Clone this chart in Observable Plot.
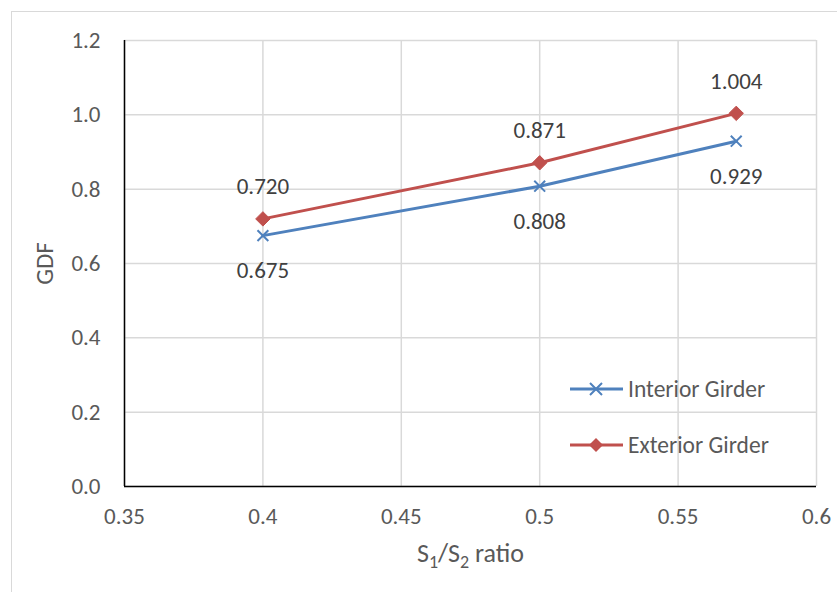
<!DOCTYPE html>
<html>
<head>
<meta charset="utf-8">
<script src="https://cdn.jsdelivr.net/npm/d3@7"></script>
<script src="https://cdn.jsdelivr.net/npm/@observablehq/plot@0.6"></script>
<style>
  html, body { margin: 0; padding: 0; background: #fff; }
  #wrap { position: relative; width: 837px; height: 592px; overflow: hidden; }
  #frame { position: absolute; left: 11px; top: 11px; width: 900px; height: 700px; border: 1.5px solid #d9d9d9; box-sizing: border-box; }
  #chart { position: absolute; left: 0; top: 0; }
  svg text { font-family: Carlito, Calibri, Lato, sans-serif; }
</style>
</head>
<body>
<div id="wrap"><div id="frame"></div><div id="chart"></div></div>
<script>
const ratios = [0.4, 0.5, 0.571];
const interior = [0.675, 0.808, 0.929];
const exterior = [0.720, 0.871, 1.004];
const seriesNames = ["Interior Girder", "Exterior Girder"];
const xTicks = [0.35, 0.4, 0.45, 0.5, 0.55, 0.6];
const yTicks = [0, 0.2, 0.4, 0.6, 0.8, 1.0, 1.2];

const blue = "#4f81bd";
const red = "#c0504d";
const gray = "#595959";
const FS = 23;

const intData = ratios.map((x, i) => ({x, y: interior[i]}));
const extData = ratios.map((x, i) => ({x, y: exterior[i]}));

const chart = Plot.plot({
  width: 837,
  height: 592,
  marginLeft: 124,
  marginRight: 21,
  marginTop: 40,
  marginBottom: 106,
  style: {fontSize: FS + "px", color: gray, background: "transparent"},
  x: {domain: [0.35, 0.6]},
  y: {domain: [0, 1.2]},
  marks: [
    Plot.ruleX(xTicks, {stroke: "#d9d9d9", strokeWidth: 1.5}),
    Plot.ruleY(yTicks, {stroke: "#d9d9d9", strokeWidth: 1.5}),
    Plot.ruleX([0.35], {stroke: "#000", strokeWidth: 1.5}),
    Plot.ruleY([0], {stroke: "#000", strokeWidth: 1.5}),
    Plot.axisX({ticks: xTicks, tickSize: 0, tickPadding: 21, tickFormat: d => String(d), fill: gray, fontSize: FS, label: "S1/S2 ratio", labelAnchor: "center", labelOffset: 75, labelArrow: false}),
    Plot.axisY({ticks: yTicks, tickSize: 0, tickPadding: 24, tickFormat: d3.format(".1f"), fill: gray, fontSize: FS, label: "GDF", labelAnchor: "center", labelOffset: 89, labelArrow: false}),
    Plot.line(intData, {x: "x", y: "y", stroke: blue, strokeWidth: 3}),
    Plot.line(extData, {x: "x", y: "y", stroke: red, strokeWidth: 3}),
    Plot.dot(intData, {x: "x", y: "y", symbol: "times", r: 5, stroke: blue, strokeWidth: 2}),
    Plot.dot(extData, {x: "x", y: "y", symbol: "diamond2", r: 6.5, fill: red, stroke: red, strokeWidth: 1}),
    Plot.text(intData, {x: "x", y: "y", text: d => d.y.toFixed(3), dy: 35, fill: "#404040", fontSize: FS}),
    Plot.text(extData, {x: "x", y: "y", text: d => d.y.toFixed(3), dy: -32, fill: "#404040", fontSize: FS})
  ]
});

// axis labels: size and subscripts
d3.select(chart).selectAll("text").each(function() {
  const t = d3.select(this);
  const s = t.text();
  if (s === "GDF") {
    t.attr("font-size", 25).attr("fill", gray);
  }
  if (s === "S1/S2 ratio") {
    t.attr("font-size", 26).attr("fill", gray);
    t.text(null);
    t.append("tspan").text("S");
    t.append("tspan").attr("font-size", "18px").attr("dy", "6").text("1");
    t.append("tspan").attr("dy", "-6").text("/S");
    t.append("tspan").attr("font-size", "18px").attr("dy", "6").text("2");
    t.append("tspan").attr("dy", "-6").text(" ratio");
  }
});

// legend inside the plot area
const svg = d3.select(chart);
const leg = svg.append("g").attr("font-size", FS + 0.5).attr("text-anchor", "start");
const items = [
  {name: seriesNames[0], color: blue, y: 389, sym: "times"},
  {name: seriesNames[1], color: red, y: 445, sym: "diamond"}
];
items.forEach(it => {
  const g = leg.append("g").attr("transform", `translate(0,${it.y})`);
  g.append("line").attr("x1", 570).attr("x2", 623).attr("stroke", it.color).attr("stroke-width", 3);
  if (it.sym === "times") {
    g.append("path").attr("d", "M590,-6L602,6M590,6L602,-6").attr("stroke", it.color).attr("stroke-width", 2);
  } else {
    g.append("path").attr("d", "M596,-7L603,0L596,7L589,0Z").attr("fill", it.color);
  }
  g.append("text").attr("x", 628).attr("dy", "0.35em").attr("fill", gray).attr("text-anchor", "start").text(it.name);
});

document.getElementById("chart").appendChild(chart);
</script>
</body>
</html>
